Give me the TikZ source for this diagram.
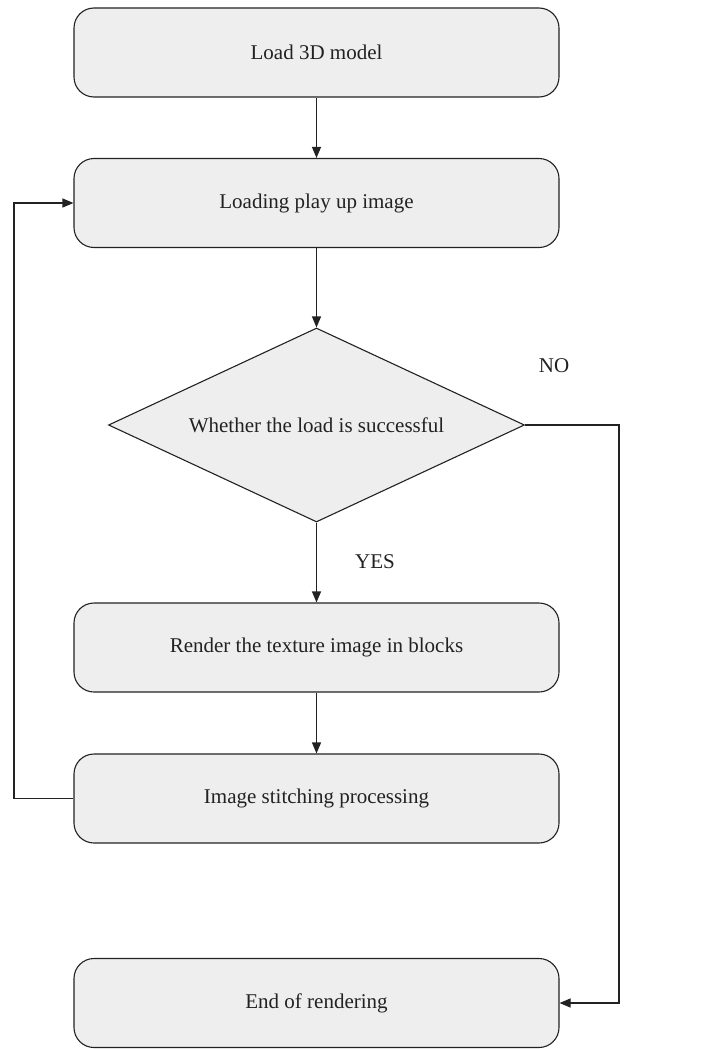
\documentclass[tikz,border=0pt]{standalone}
\usepackage{fontspec}
\setmainfont{Liberation Serif}
\usetikzlibrary{arrows.meta,shapes.geometric}
\definecolor{boxgray}{HTML}{EEEEEE}
\definecolor{linecol}{HTML}{222222}
\begin{document}
\begin{tikzpicture}[x=1pt,y=-1pt,
  every node/.style={font=\fontsize{21}{25}\selectfont, text=linecol},
  stepbox/.style={draw=linecol, fill=boxgray, line width=1.1pt, rounded corners=20pt,
    minimum width=485pt, minimum height=89pt, inner sep=0pt},
  decision/.style={draw=linecol, fill=boxgray, line width=1.1pt, diamond, aspect=2.144,
    minimum width=416pt, minimum height=194pt, inner sep=0pt},
  conn/.style={draw=linecol, line width=1.1pt},
  arr/.style={conn, -{Triangle[length=11pt,width=9pt]}},
  lbl/.style={inner sep=0pt}]
\useasboundingbox (0,0) rectangle (717,1049);
\node[stepbox] (b1) at (316.5,52.5) {Load 3D model};
\node[stepbox] (b2) at (316.5,203) {Loading play up image};
\node[decision] (d) at (316.5,425) {Whether the load is successful};
\node[stepbox] (b3) at (316.5,647.5) {Render the texture image in blocks};
\node[stepbox] (b4) at (316.5,798.5) {Image stitching processing};
\node[stepbox] (b5) at (316.5,1003) {End of rendering};
\coordinate (lf) at (14,798.5);
\coordinate (rt) at (619,425);
\node[lbl] (no) at (554,366) {NO};
\node[lbl] (yes) at (375,562) {YES};
\draw[arr] (b1) -- (b2);
\draw[arr] (b2) -- (d);
\draw[arr] (d) -- (b3);
\draw[arr] (b3) -- (b4);
\draw[arr] (b4.west) -- (lf) |- (b2.west);
\draw[arr] (d.east) -- (rt) |- (b5.east);
\end{tikzpicture}
\end{document}
